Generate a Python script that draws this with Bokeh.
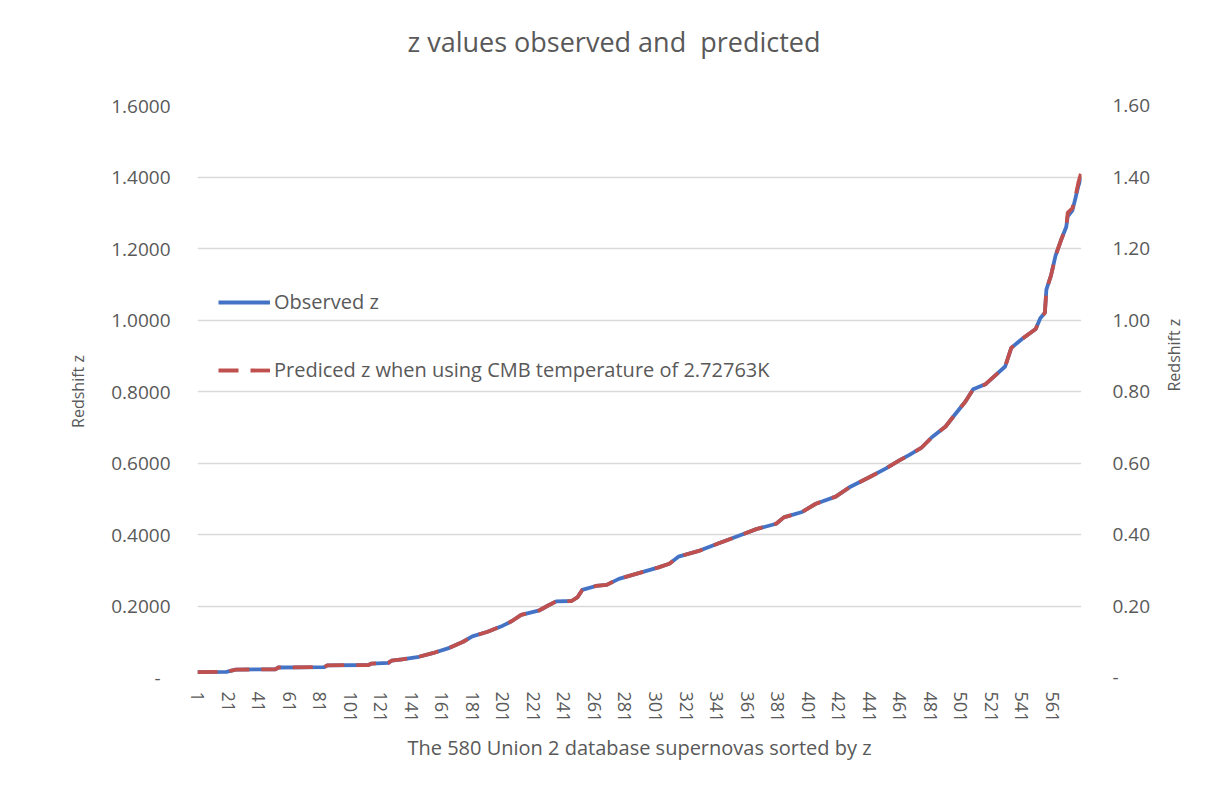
import math
from bokeh.plotting import figure
from bokeh.models import (Range1d, LinearAxis, FixedTicker, NumeralTickFormatter,
                          Legend, LegendItem, Title)
from bokeh.embed import file_html
from bokeh.resources import INLINE

# ---- data ----
sn_index = [1, 20, 26, 52, 54, 84, 86, 113, 115, 126, 128, 135, 146, 155, 166, 175,
            181, 191, 201, 207, 213, 225, 231, 236, 246, 250, 253, 262, 269, 277,
            290, 303, 310, 316, 330, 342, 356, 367, 380, 385, 397, 406, 419, 428,
            441, 452, 461, 467, 475, 482, 491, 497, 504, 509, 517, 523, 530, 534,
            541, 550, 553, 556, 557, 560, 563, 567, 570, 571, 574, 576, 578, 580]
observed_z = [0.015, 0.016, 0.022, 0.023, 0.028, 0.029, 0.034, 0.035, 0.039, 0.041,
              0.047, 0.051, 0.058, 0.068, 0.083, 0.100, 0.115, 0.128, 0.145, 0.158,
              0.175, 0.188, 0.202, 0.213, 0.214, 0.225, 0.245, 0.256, 0.259, 0.276,
              0.292, 0.308, 0.318, 0.338, 0.355, 0.375, 0.397, 0.415, 0.430, 0.448,
              0.463, 0.486, 0.506, 0.532, 0.560, 0.585, 0.608, 0.622, 0.642, 0.672,
              0.702, 0.735, 0.772, 0.806, 0.820, 0.843, 0.870, 0.922, 0.947, 0.975,
              1.005, 1.020, 1.085, 1.124, 1.180, 1.228, 1.260, 1.290, 1.306, 1.340,
              1.376, 1.400]
predicted_z = [0.015, 0.016, 0.022, 0.023, 0.028, 0.029, 0.034, 0.035, 0.039, 0.041,
               0.047, 0.051, 0.058, 0.068, 0.083, 0.100, 0.115, 0.128, 0.145, 0.158,
               0.175, 0.188, 0.202, 0.213, 0.214, 0.225, 0.245, 0.256, 0.259, 0.276,
               0.292, 0.308, 0.318, 0.338, 0.355, 0.375, 0.397, 0.415, 0.430, 0.448,
               0.463, 0.486, 0.506, 0.532, 0.560, 0.585, 0.608, 0.622, 0.642, 0.672,
               0.702, 0.735, 0.772, 0.806, 0.820, 0.843, 0.870, 0.922, 0.947, 0.975,
               1.005, 1.020, 1.085, 1.124, 1.180, 1.228, 1.260, 1.300, 1.312, 1.345,
               1.385, 1.415]
x_ticks = list(range(1, 581, 20))
y_ticks = [0.0, 0.2, 0.4, 0.6, 0.8, 1.0, 1.2, 1.4, 1.6]
title_text = "z values observed and\u00a0 predicted"

FONT = "Open Sans"
TXT = "#595959"
GRID = "#d9d9d9"

p = figure(width=1199, height=787, output_backend="svg", toolbar_location=None,
           x_range=Range1d(1, 580), y_range=Range1d(0, 1.6),
           min_border_left=197, min_border_right=116, min_border_top=105,
           min_border_bottom=110, background_fill_color="white",
           border_fill_color="white", outline_line_color=None)
p.extra_y_ranges = {"right": Range1d(0, 1.6)}

# spacer panel next to the frame (an invisible no-break space), then the title above it
p.add_layout(Title(text="\u00a0", standoff=22, text_font_size="2px",
                   text_color="white"), "above")
p.add_layout(Title(text=title_text, align="left", offset=210, text_font=FONT,
                   text_font_size="27px", text_color=TXT, text_font_style="normal",
                   standoff=40), "above")

# grid
p.xgrid.grid_line_color = None
p.ygrid.ticker = FixedTicker(ticks=y_ticks)
p.ygrid.grid_line_color = GRID
p.ygrid.grid_line_width = 1.3

# x axis
xa = p.xaxis[0]
xa.ticker = FixedTicker(ticks=x_ticks)
xa.major_label_orientation = "vertical"
xa.axis_line_color = None
xa.major_tick_line_color = None
xa.minor_tick_line_color = None
xa.major_label_standoff = 8
xa.major_label_text_font = FONT
xa.major_label_text_font_size = "18px"
xa.major_label_text_color = TXT
xa.axis_label = "The 580 Union 2 database supernovas sorted by z"
xa.axis_label_text_font = FONT
xa.axis_label_text_font_size = "20px"
xa.axis_label_text_font_style = "normal"
xa.axis_label_text_color = TXT
xa.axis_label_standoff = 9

# left y axis
ya = p.yaxis[0]
ya.ticker = FixedTicker(ticks=y_ticks)
ya.formatter = NumeralTickFormatter(format="0.0000")
ya.major_label_overrides = {0: "-\u00a0\u00a0"}
ya.axis_line_color = None
ya.major_tick_line_color = None
ya.minor_tick_line_color = None
ya.major_label_standoff = 21
ya.major_label_text_font = FONT
ya.major_label_text_font_size = "19px"
ya.major_label_text_color = TXT
ya.axis_label = "Redshift z"
ya.axis_label_text_font = FONT
ya.axis_label_text_font_size = "16px"
ya.axis_label_text_font_style = "normal"
ya.axis_label_text_color = TXT
ya.axis_label_standoff = 19

# right y axis
ra = LinearAxis(y_range_name="right", ticker=FixedTicker(ticks=y_ticks),
                formatter=NumeralTickFormatter(format="0.00"))
ra.major_label_overrides = {0: "-"}
ra.axis_line_color = None
ra.major_tick_line_color = None
ra.minor_tick_line_color = None
ra.major_label_standoff = 25
ra.major_label_text_font = FONT
ra.major_label_text_font_size = "19px"
ra.major_label_text_color = TXT
ra.axis_label = "Redshift z"
ra.axis_label_orientation = math.pi / 2
ra.axis_label_text_font = FONT
ra.axis_label_text_font_size = "16px"
ra.axis_label_text_font_style = "normal"
ra.axis_label_text_color = TXT
ra.axis_label_standoff = 21
p.add_layout(ra, "right")

r_obs = p.line(sn_index, observed_z, line_color="#4472C4", line_width=3.8,
               line_join="round")
r_pred = p.line(sn_index, predicted_z, line_color="#C0504D", line_width=3.8,
                line_dash="20 12", y_range_name="right")

legend = Legend(items=[LegendItem(label="Observed z", renderers=[r_obs]),
                       LegendItem(label="Prediced z when using CMB temperature of 2.72763K",
                                  renderers=[r_pred])],
                location=(21, 294), orientation="vertical", spacing=41,
                glyph_width=52, glyph_height=20, label_height=20, label_standoff=4,
                padding=0, margin=0, border_line_color=None,
                background_fill_alpha=0, label_text_font=FONT,
                label_text_font_size="20px", label_text_color=TXT)
p.add_layout(legend)

open("out.html", "w").write(file_html(p, INLINE))
